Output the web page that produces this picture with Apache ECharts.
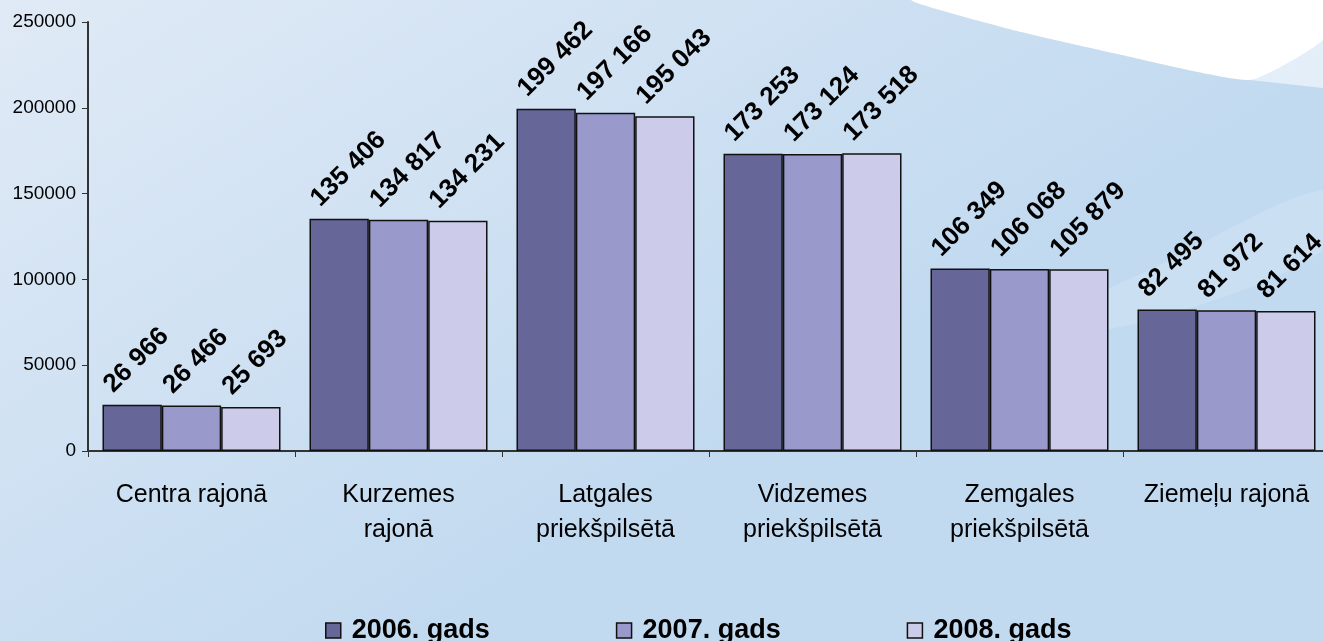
<!DOCTYPE html>
<html>
<head>
<meta charset="utf-8">
<script src="https://cdn.jsdelivr.net/npm/echarts@6/dist/echarts.min.js"></script>
<style>
  html, body { margin: 0; padding: 0; }
  #chart { width: 1323px; height: 641px; }
</style>
</head>
<body>
<div id="chart"></div>
<script>
const categories = ['Centra rajonā', 'Kurzemes\nrajonā', 'Latgales\npriekšpilsētā', 'Vidzemes\npriekšpilsētā', 'Zemgales\npriekšpilsētā', 'Ziemeļu rajonā'];
const years = ['2006. gads', '2007. gads', '2008. gads'];
const data2006 = [26966, 135406, 199462, 173253, 106349, 82495];
const data2007 = [26466, 134817, 197166, 173124, 106068, 81972];
const data2008 = [25693, 134231, 195043, 173518, 105879, 81614];
const colors = ['#666699', '#9999cc', '#ccccea'];

const font = '"Liberation Sans", Arial, sans-serif';

function fmt(v) {
  return String(v).replace(/\B(?=(\d{3})+(?!\d))/g, ' ');
}

function makeSeries(name, values, color) {
  return {
    name: name,
    type: 'bar',
    data: values,
    barGap: 0,
    barCategoryGap: '14%',
    itemStyle: { color: color, borderColor: '#111', borderWidth: 1.5 },
    label: {
      show: true,
      position: [15, -7],
      rotate: 45,
      align: 'left',
      verticalAlign: 'bottom',
      formatter: p => fmt(p.value),
      fontFamily: font,
      fontWeight: 'bold',
      fontSize: 26,
      color: '#000'
    }
  };
}

const chart = echarts.init(document.getElementById('chart'));
chart.setOption({
  animation: false,
  backgroundColor: {
    type: 'linear', x: 0, y: 0, x2: 0.3, y2: 1,
    colorStops: [
      { offset: 0, color: '#e0eaf6' },
      { offset: 1, color: '#c2daf0' }
    ]
  },
  graphic: [
    {
      type: 'polygon', z: -10, silent: true,
      shape: { points: [[1250, 80], [1323, 88], [1323, 38]] },
      style: { fill: 'rgba(255,255,255,0.55)' }
    },
    {
      type: 'polygon', z: -10, silent: true,
      shape: {
        points: [[912, 0], [1013, 30], [1113, 53], [1250, 80], [1323, 40], [1323, 0]],
        smooth: 0.15
      },
      style: { fill: '#ffffff' }
    },
    {
      type: 'polygon', z: -10, silent: true,
      shape: { points: [[1000, 340], [1150, 270], [1323, 190], [1323, 250], [1150, 320]], smooth: 0.3 },
      style: { fill: 'rgba(255,255,255,0.15)' }
    }
  ],
  grid: { left: 88, width: 1242, top: 22, bottom: 190, outerBoundsMode: 'none' },
  legend: {
    top: 612,
    left: 320,
    itemGap: 126,
    itemWidth: 15,
    itemHeight: 15,
    icon: 'rect',
    data: years,
    textStyle: { fontFamily: font, fontWeight: 'bold', fontSize: 27, color: '#000', padding: [0, 0, 0, 6] },
    itemStyle: { borderColor: '#111', borderWidth: 1.5 }
  },
  xAxis: {
    type: 'category',
    data: categories,
    axisLine: { lineStyle: { color: '#333', width: 2 } },
    axisTick: { show: true, length: 6, lineStyle: { color: '#333' } },
    axisLabel: {
      fontFamily: font, fontSize: 25, color: '#000',
      margin: 27, lineHeight: 35, interval: 0
    }
  },
  yAxis: {
    type: 'value',
    min: 0,
    max: 250000,
    interval: 50000,
    splitLine: { show: false },
    axisLine: { show: true, lineStyle: { color: '#333', width: 2 } },
    axisTick: { show: true, length: 6, lineStyle: { color: '#333' } },
    axisLabel: { fontFamily: font, fontSize: 19, color: '#000', margin: 12, formatter: v => String(v) }
  },
  series: [
    makeSeries(years[0], data2006, colors[0]),
    makeSeries(years[1], data2007, colors[1]),
    makeSeries(years[2], data2008, colors[2])
  ]
});
</script>
</body>
</html>
